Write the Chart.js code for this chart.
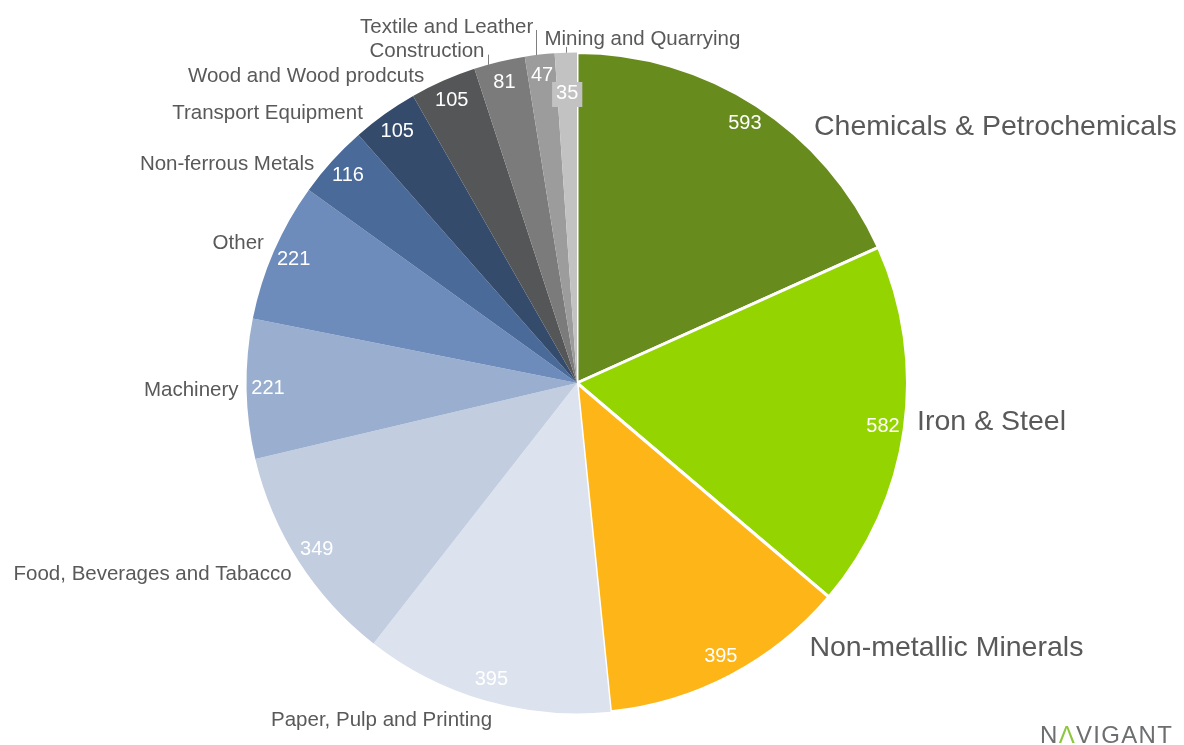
<!DOCTYPE html>
<html>
<head>
<meta charset="utf-8">
<script src="https://cdn.jsdelivr.net/npm/chart.js@4.4.1/dist/chart.umd.min.js"></script>
<style>
  html, body { margin: 0; padding: 0; background: #fff; }
  #wrap { width: 1184px; height: 745px; }
</style>
</head>
<body>
<div id="wrap"><canvas id="myChart" width="1184" height="745"></canvas></div>
<script>
const labels = [
  "Chemicals & Petrochemicals",
  "Iron & Steel",
  "Non-metallic Minerals",
  "Paper, Pulp and Printing",
  "Food, Beverages and Tabacco",
  "Machinery",
  "Other",
  "Non-ferrous Metals",
  "Transport Equipment",
  "Wood and Wood prodcuts",
  "Construction",
  "Textile and Leather",
  "Mining and Quarrying",
]
const values = [593, 582, 395, 395, 349, 221, 221, 116, 105, 105, 81, 47, 35]

const colors = [
  "#678B1D", "#94D400", "#FDB517", "#DCE3EE", "#C2CDE0", "#9AAFCF", "#6D8CBB",
  "#4A6A9A", "#344B6C", "#555658", "#7B7B7B", "#9C9C9C", "#C2C2C2",
]

// tweaks to the "best fit" label spots, like Excel moved them
const labelTweaks = {
  0: { dx: 51, dy: 45, size: 28.5 },
  1: { dx: 1, dy: -11, size: 28.5 },
  2: { dx: 73, dy: -53, size: 28.5 },
  3: { dx: 10, dy: -3 },
  4: { dx: 3, dy: 0 },
  5: { dx: 4, dy: 1 },
  6: { dx: 1, dy: 2 },
  7: { dx: -9, dy: 19 },
  8: { dx: -15, dy: 19 },
  9: { dx: -14, dy: 17 },
  10: { dx: -12, dy: 13, leader: true },
  11: { dx: -5, dy: -4, leader: true },
  12: { dx: -21, dy: 10, align: "left", leader: true },
}

const FONT = "'Liberation Sans', Arial, sans-serif"

const pieLabels = {
  id: "pieLabels",
  afterDatasetsDraw(chart) {
    const ctx = chart.ctx
    const meta = chart.getDatasetMeta(0)
    ctx.save()
    meta.data.forEach((arc, i) => {
      const { x, y, startAngle, endAngle, outerRadius } = arc.getProps(
        ["x", "y", "startAngle", "endAngle", "outerRadius"], true)
      const mid = (startAngle + endAngle) / 2
      const ux = Math.cos(mid)
      const uy = Math.sin(mid)
      const span = endAngle - startAngle
      const tiny = span < 0.08

      // value inside the slice
      ctx.font = "20px " + FONT
      ctx.textAlign = "center"
      ctx.textBaseline = "middle"
      const vr = tiny ? outerRadius * 0.875 : outerRadius * 0.935
      const vx = x + ux * vr
      const vy = y + uy * vr
      const txt = String(values[i])
      if (tiny) {
        const w = ctx.measureText(txt).width + 8
        ctx.fillStyle = colors[i]
        ctx.fillRect(vx - w / 2, vy - 12, w, 25)
      }
      ctx.fillStyle = "#ffffff"
      ctx.fillText(txt, vx, vy)

      // category name outside
      const tw = labelTweaks[i] || { dx: 0, dy: 0 }
      const size = tw.size || 20.5
      ctx.font = size + "px " + FONT
      const g = 12
      const ax = x + ux * (outerRadius + g)
      const ay = y + uy * (outerRadius + g)
      const h = size * 1.15
      const align = tw.align || (ux >= 0 ? "left" : "right")
      const lx = ax + tw.dx
      const ly = ay + (h / 2) * uy + tw.dy
      ctx.textAlign = align
      ctx.fillStyle = "#595959"
      ctx.fillText(labels[i], lx, ly)

      if (tw.leader) {
        const ex = x + ux * outerRadius
        const sx = align === "right" ? Math.min(ex, lx + 3) : Math.max(ex, lx - 3)
        const sy = y - Math.sqrt(outerRadius * outerRadius - (sx - x) * (sx - x))
        ctx.strokeStyle = "#7f7f7f"
        ctx.lineWidth = 1
        ctx.beginPath()
        ctx.moveTo(Math.round(sx) + 0.5, ly + (align === "left" ? 8 : 3))
        ctx.lineTo(Math.round(sx) + 0.5, sy)
        ctx.stroke()
      }
    })

    // logo
    const logo = ["N", "\u039B", "V", "I", "G", "A", "N", "T"]
    ctx.font = "24px " + FONT
    ctx.textAlign = "left"
    ctx.textBaseline = "alphabetic"
    let px = 1040
    logo.forEach((c, k) => {
      ctx.fillStyle = k === 1 ? "#8DC63F" : "#6d6e70"
      ctx.fillText(c, px, 743)
      px += ctx.measureText(c).width + 1.3
    })
    ctx.restore()
  },
}

const data = {
  labels: labels,
  datasets: [
    {
      data: values,
      backgroundColor: colors,
      borderColor: "#ffffff",
      borderWidth: [3, 3, 3, 0, 0, 0, 0, 0, 0, 0, 0, 0, 0],
    },
  ],
}

const config = {
  type: "pie",
  data: data,
  options: {
    responsive: false,
    animation: false,
    layout: { padding: { top: 51, bottom: 30, left: 245, right: 275 } },
    plugins: {
      legend: { display: false },
      tooltip: { enabled: false },
    },
  },
  plugins: [pieLabels],
}

const myChart = new Chart(document.getElementById("myChart"), config)
</script>
</body>
</html>
